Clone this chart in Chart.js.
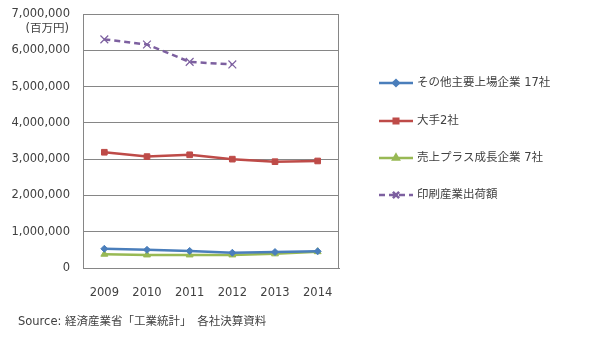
<!DOCTYPE html>
<html>
<head>
<meta charset="utf-8">
<script src="https://cdn.jsdelivr.net/npm/chart.js@4/dist/chart.umd.min.js"></script>
<style>
  html, body { margin: 0; padding: 0; background: #fff; }
  #wrap { position: relative; width: 605px; height: 339px; }
</style>
</head>
<body>
<div id="wrap"><canvas id="chart" width="605" height="339"></canvas></div>
<script>
const YEARS = ['2009', '2010', '2011', '2012', '2013', '2014'];
const OTHER_17 = [530000, 500000, 470000, 420000, 440000, 460000];
const MAJOR_2 = [3190000, 3070000, 3120000, 3000000, 2930000, 2950000];
const GROWTH_7 = [380000, 360000, 360000, 360000, 390000, 450000];
const PRINT_SHIPMENTS = [6300000, 6160000, 5680000, 5610000, null, null];
const Y_TICKS = [0, 1000000, 2000000, 3000000, 4000000, 5000000, 6000000, 7000000];

const FONT = '"DejaVu Sans", "Noto Sans CJK JP", sans-serif';
const TXT = '#404040';

const $ = id => document.getElementById(id);

// legend + unit label + source line drawn on the canvas
const extras = {
  id: 'extras',
  afterDraw(chart) {
    const { ctx, chartArea: a } = chart;
    ctx.save();
    // plot frame
    ctx.strokeStyle = '#868686';
    ctx.lineWidth = 1;
    ctx.strokeRect(a.left + 0.5, a.top + 0.5, a.right - a.left - 1, a.bottom - a.top);
    ctx.font = '11.5px ' + FONT;
    ctx.fillStyle = TXT;
    ctx.textBaseline = 'middle';
    ctx.textAlign = 'right';
    ctx.fillText('(百万円)', 69, 29);
    ctx.textAlign = 'left';
    ctx.fillText('Source: 経済産業省「工業統計」　各社決算資料', 18, 322);

    const ys = [83, 121, 158, 195];
    chart.data.datasets.forEach((ds, i) => {
      const y = ys[i], x0 = 379, x1 = 413;
      ctx.strokeStyle = ds.borderColor;
      ctx.lineWidth = 2.5;
      ctx.setLineDash(ds.borderDash || []);
      ctx.beginPath(); ctx.moveTo(x0, y); ctx.lineTo(x1, y); ctx.stroke();
      ctx.setLineDash([]);
      ctx.fillStyle = ds.backgroundColor;
      Chart.helpers.drawPoint(ctx, {
        pointStyle: ds.pointStyle,
        radius: ds.pointRadius * 0.8,
        borderWidth: ds.pointBorderWidth || 1
      }, (x0 + x1) / 2, y);
      ctx.fillStyle = TXT;
      ctx.fillText(ds.label, 417, y);
    });
    ctx.restore();
  }
};

function series(label, data, color, style, radius, extra) {
  return Object.assign({
    label, data,
    borderColor: color, backgroundColor: color,
    pointBackgroundColor: color, pointBorderColor: color,
    borderWidth: 2.5, pointStyle: style, pointRadius: radius,
    pointBorderWidth: 1, tension: 0, spanGaps: false
  }, extra || {});
}

new Chart($('chart'), {
  type: 'line',
  data: {
    labels: YEARS,
    datasets: [
      series('その他主要上場企業 17社', OTHER_17, '#4a7ebb', 'rectRot', 3.5),
      series('大手2社', MAJOR_2, '#be4b48', 'rect', 4),
      series('売上プラス成長企業 7社', GROWTH_7, '#98b954', 'triangle', 4),
      series('印刷産業出荷額', PRINT_SHIPMENTS, '#7d60a0', 'crossRot', 5.5, { borderDash: [6, 4], pointBorderWidth: 1.2 })
    ]
  },
  options: {
    responsive: false,
    animation: false,
    layout: { padding: { left: 0, top: 14, right: 266, bottom: 0 } },
    plugins: { legend: { display: false }, tooltip: { enabled: false } },
    scales: {
      x: {
        offset: true,
        grid: { display: false },
        border: { color: '#868686' },
        ticks: { color: TXT, font: { family: FONT, size: 11.5 }, padding: 10 },
        afterFit: s => { s.height = 71; }
      },
      y: {
        min: 0, max: 7000000,
        afterBuildTicks: s => { s.ticks = Y_TICKS.map(v => ({ value: v })); },
        grid: { color: '#868686', drawTicks: false },
        border: { color: '#868686' },
        ticks: {
          color: TXT, font: { family: FONT, size: 11.5 }, padding: 13,
          callback: v => v.toLocaleString('en-US')
        },
        // fixed axis width, no extra room reserved above the top label
        afterFit: s => { s.width = 83; s.paddingTop = 0; s.paddingBottom = 0; }
      }
    }
  },
  plugins: [extras]
});
</script>
</body>
</html>
